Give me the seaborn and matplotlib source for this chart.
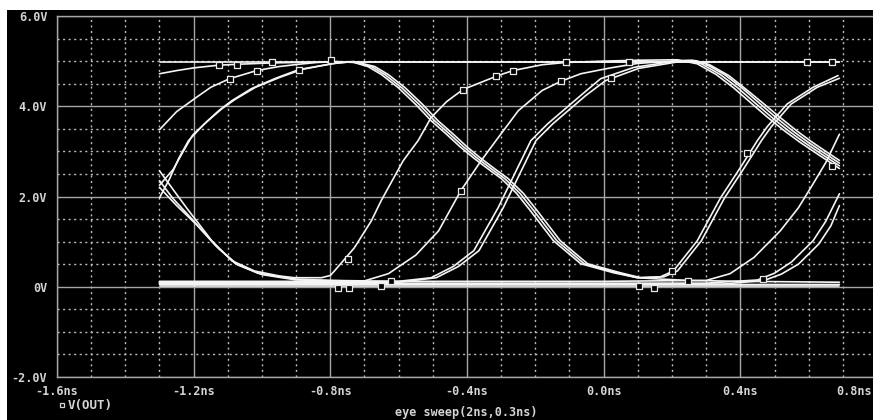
import numpy as np
import pandas as pd
import matplotlib
matplotlib.use("Agg")
import matplotlib.pyplot as plt
import seaborn as sns
from matplotlib.ticker import MultipleLocator, FixedLocator
from matplotlib.patches import Rectangle
from matplotlib.lines import Line2D
from matplotlib.transforms import ScaledTranslation

# ---------------- data (time in ns, voltage in V) ----------------
t_high = [-1.30, 0.69]
v_high = [4.97, 4.97]

t_c = [-1.30, -1.25, -1.20, -1.127, -1.074, -0.972, -0.90, -0.80, 0.69]
v_c = [4.72, 4.79, 4.85, 4.91, 4.93, 4.96, 4.97, 4.98, 4.98]

t_low1 = [-1.30, 0.69]
v_low1 = [0.02, 0.02]

t_low2 = [-1.30, -0.80, -0.30, 0.30, 0.69]
v_low2 = [0.07, 0.06, 0.06, 0.05, 0.05]

t_d = [-1.30, -1.25, -1.197, -1.15, -1.095, -1.016, -0.95, -0.893, -0.84, -0.78, -0.73,
       -0.69, -0.65, -0.601, -0.55, -0.505, -0.46, -0.42, -0.38, -0.34, -0.30, -0.255, -0.215,
       -0.147, -0.067, 0.029, 0.099, 0.166, 0.25, 0.40, 0.55, 0.69]
v_d = [3.48, 3.88, 4.17, 4.42, 4.61, 4.79, 4.88, 4.93, 4.97, 4.99, 4.97,
       4.88, 4.70, 4.41, 4.04, 3.68, 3.38, 3.10, 2.85, 2.62, 2.40, 2.07, 1.69,
       1.02, 0.51, 0.31, 0.20, 0.17, 0.14, 0.12, 0.11, 0.10]

t_e1 = [-1.30, -1.27, -1.244, -1.215, -1.17, -1.127, -1.089, -1.031, -0.96, -0.893, -0.797, -0.74,
        -0.68, -0.64, -0.591, -0.54, -0.495, -0.45, -0.41, -0.37, -0.33, -0.29, -0.245, -0.205,
        -0.137, -0.057, 0.039, 0.099, 0.166,
        0.204, 0.274, 0.342, 0.40, 0.45, 0.479, 0.537, 0.613, 0.686]
v_e1 = [1.97, 2.40, 2.84, 3.24, 3.60, 3.90, 4.12, 4.39, 4.62, 4.81, 4.94, 4.99,
        4.88, 4.70, 4.41, 4.04, 3.68, 3.38, 3.10, 2.85, 2.62, 2.40, 2.07, 1.69,
        1.02, 0.51, 0.31, 0.20, 0.22,
        0.35, 1.02, 1.97, 2.64, 3.24, 3.55, 4.05, 4.42, 4.68]

t_e2 = [-1.30, -1.26, -1.232, -1.203, -1.158, -1.115, -1.077, -1.019, -0.948, -0.881, -0.79, -0.73,
        -0.67, -0.63, -0.581, -0.53, -0.485, -0.44, -0.40, -0.36, -0.32, -0.28, -0.235, -0.195,
        -0.127, -0.047, 0.049, 0.109, 0.176,
        0.216, 0.286, 0.354, 0.412, 0.462, 0.491, 0.549, 0.625, 0.69]
v_e2 = [2.25, 2.60, 2.98, 3.36, 3.68, 3.96, 4.16, 4.42, 4.64, 4.82, 4.95, 4.99,
        4.88, 4.70, 4.41, 4.04, 3.68, 3.38, 3.10, 2.85, 2.62, 2.40, 2.07, 1.69,
        1.02, 0.51, 0.31, 0.20, 0.22,
        0.35, 1.02, 1.97, 2.64, 3.24, 3.55, 4.05, 4.42, 4.62]

t_f1 = [-1.30, -1.255, -1.215, -1.147, -1.089, -1.022, -0.95, -0.905, -0.826,
        -0.80, -0.788, -0.73, -0.68, -0.651, -0.587, -0.543, -0.505, -0.46, -0.412, -0.309,
        -0.266, -0.18, -0.111, 0.0, 0.10, 0.216,
        0.274, 0.33, 0.38, 0.43, 0.479, 0.53, 0.575, 0.62, 0.69]
v_f1 = [2.57, 2.10, 1.69, 1.02, 0.58, 0.35, 0.24, 0.20, 0.20,
        0.25, 0.35, 0.86, 1.46, 1.91, 2.79, 3.24, 3.75, 4.10, 4.37, 4.68,
        4.79, 4.92, 4.97, 5.00, 5.02, 5.03,
        4.94, 4.70, 4.41, 4.08, 3.76, 3.45, 3.20, 2.97, 2.62]

t_f2 = [-1.30, -1.26, -1.205, -1.137, -1.079, -1.012, -0.90, -0.80, -0.70,
        -0.63, -0.55, -0.483, -0.418, -0.359, -0.315, -0.25, -0.18, -0.126, -0.067, 0.02, 0.10, 0.20,
        0.25, 0.286, 0.342, 0.392, 0.442, 0.491, 0.542, 0.587, 0.632, 0.69]
v_f2 = [2.35, 1.95, 1.50, 0.92, 0.52, 0.30, 0.17, 0.14, 0.13,
        0.29, 0.70, 1.24, 2.13, 2.79, 3.24, 3.90, 4.35, 4.55, 4.72, 4.85, 4.95, 5.00,
        5.01, 4.94, 4.70, 4.41, 4.08, 3.76, 3.45, 3.20, 2.97, 2.68]

t_f3 = [-1.30, -1.25, -1.195, -1.127, -1.07, -1.0, -0.90, -0.75, -0.60,
        -0.505, -0.44, -0.38, -0.309, -0.242, -0.213, -0.164, -0.067, -0.009, 0.088, 0.216,
        0.26, 0.298, 0.354, 0.404, 0.454, 0.503, 0.554, 0.599, 0.644, 0.69]
v_f3 = [2.20, 1.80, 1.40, 0.85, 0.48, 0.27, 0.15, 0.13, 0.12,
        0.20, 0.45, 0.80, 1.75, 2.79, 3.24, 3.61, 4.24, 4.61, 4.86, 5.01,
        5.02, 4.94, 4.70, 4.41, 4.08, 3.76, 3.45, 3.20, 2.97, 2.74]

t_g = [-1.30, -0.80, -0.60,
       -0.49, -0.425, -0.365, -0.294, -0.227, -0.198, -0.149, -0.052, 0.006, 0.103, 0.23,
       0.27, 0.31, 0.366, 0.416, 0.466, 0.515, 0.566, 0.611, 0.656, 0.69]
v_g = [0.10, 0.10, 0.10,
       0.20, 0.45, 0.80, 1.75, 2.79, 3.24, 3.61, 4.24, 4.57, 4.84, 5.00,
       5.01, 4.92, 4.68, 4.38, 4.07, 3.76, 3.45, 3.20, 2.97, 2.80]

t_h = [-1.30, 0.0, 0.30, 0.37, 0.44, 0.517, 0.57, 0.613, 0.65, 0.69]
v_h = [0.12, 0.12, 0.14, 0.29, 0.65, 1.24, 1.75, 2.28, 2.75, 3.38]

t_i1 = [-1.30, 0.30, 0.45, 0.50, 0.55, 0.613, 0.65, 0.69]
v_i1 = [0.08, 0.08, 0.15, 0.30, 0.55, 1.02, 1.45, 2.06]

t_i2 = [-1.30, 0.35, 0.47, 0.52, 0.57, 0.63, 0.665, 0.69]
v_i2 = [0.05, 0.06, 0.14, 0.28, 0.50, 0.95, 1.35, 1.80]

# identification markers (PSpice square symbols) on the traces
mark_t = [-1.127, -1.074, -0.972, -1.095, -1.016, -0.891, -0.797, -0.412, -0.315, -0.266,
          -0.111, -0.126, 0.073, 0.020, 0.596, 0.669, 0.420, 0.669, 0.201, 0.248, 0.467,
          0.102, 0.146, -0.747, -0.651, -0.622, -0.777, -0.745, -0.418]
mark_v = [4.92, 4.92, 4.97, 4.61, 4.79, 4.81, 5.03, 4.37, 4.68, 4.79,
          4.97, 4.55, 4.99, 4.63, 4.97, 4.97, 2.97, 2.68, 0.35, 0.13, 0.18,
          0.02, -0.02, 0.62, 0.02, 0.13, -0.02, -0.02, 2.13]

x_ticks = [-1.6, -1.2, -0.8, -0.4, 0.0, 0.4, 0.8]
x_labels = ["-1.6ns", "-1.2ns", "-0.8ns", "-0.4ns", "0.0ns", "0.4ns", "0.8ns"]
y_ticks = [-2, 0, 2, 4, 6]
y_labels = ["-2.0V", "0V", "2.0V", "4.0V", "6.0V"]

traces = {
    "high": (t_high, v_high), "c": (t_c, v_c), "low1": (t_low1, v_low1), "low2": (t_low2, v_low2),
    "d": (t_d, v_d), "e1": (t_e1, v_e1), "e2": (t_e2, v_e2), "f1": (t_f1, v_f1),
    "f2": (t_f2, v_f2), "f3": (t_f3, v_f3), "g": (t_g, v_g), "h": (t_h, v_h),
    "i1": (t_i1, v_i1), "i2": (t_i2, v_i2),
}
rows = []
for name, (tt, vv) in traces.items():
    for k, (a, b) in enumerate(zip(tt, vv)):
        rows.append({"trace": name, "order": k, "t": a, "v": b})
df = pd.DataFrame(rows)
marks = pd.DataFrame({"t": mark_t, "v": mark_v})

# ---------------- figure ----------------
sns.set_theme(style="dark")
plt.rcParams["font.family"] = ["DejaVu Sans Mono"]

W, H = 873, 420
fig = plt.figure(figsize=(W / 100, H / 100), dpi=100, facecolor="white")
fig.patches.append(Rectangle((7 / W, 0), 1, 1 - 10 / H, transform=fig.transFigure,
                             facecolor="black", edgecolor="none", zorder=-10))

ax = fig.add_axes([57 / W, 43 / H, 820 / W, 361 / H])
ax.set_facecolor("black")

grid_major = "#a6a6a6"
grid_minor = "#bdbdbd"
ax.xaxis.set_major_locator(FixedLocator(x_ticks))
ax.xaxis.set_minor_locator(MultipleLocator(0.1))
ax.yaxis.set_major_locator(FixedLocator(y_ticks))
ax.yaxis.set_minor_locator(MultipleLocator(0.5))
ax.grid(which="major", color=grid_major, lw=1.0, ls="-", zorder=0)
ax.grid(which="minor", color=grid_minor, lw=1.0, ls=(0, (1.5, 2.5)), zorder=0)
ax.set_axisbelow(True)

sns.lineplot(data=df, x="t", y="v", units="trace", estimator=None, sort=False,
             color="#f4f4f4", lw=1.2, ax=ax, legend=False, zorder=3)
sns.scatterplot(data=marks, x="t", y="v", marker="s", s=13, facecolor="black",
                edgecolor="#e8e8e8", linewidth=0.9, ax=ax, legend=False, zorder=4)

ax.set_xlim(-1.6, 0.8)
ax.set_ylim(-2, 6)
ax.set_xticks(x_ticks)
ax.set_xticklabels(x_labels)
ax.set_yticks(y_ticks)
ax.set_yticklabels(y_labels)
ax.set_xlabel("")
ax.set_ylabel("")

lab_color = "#d4d4d4"
ax.tick_params(which="major", length=3, width=1, color=grid_major, colors=lab_color,
               labelsize=8.5, pad=4, direction="out")
ax.tick_params(which="minor", length=0)
ax.tick_params(axis="x", pad=2.5)
for lbl in ax.get_xticklabels() + ax.get_yticklabels():
    lbl.set_fontweight("bold")
    lbl.set_color(lab_color)
last = ax.get_xticklabels()[-1]
last.set_horizontalalignment("right")
last.set_transform(last.get_transform() + ScaledTranslation(-5 / 100, 0, fig.dpi_scale_trans))

for s in ax.spines.values():
    s.set_visible(True)
    s.set_color(grid_major)
    s.set_linewidth(1.0)

# legend entry and sweep label
fig.add_artist(Line2D([62 / W], [1 - 405 / H], marker="s", markersize=3.5, mfc="black",
                      mec=lab_color, mew=0.9, transform=fig.transFigure))
fig.text(68 / W, 1 - 405 / H, "V(OUT)", color=lab_color, fontsize=9, fontweight="bold",
         ha="left", va="center")
fig.text(466 / W, 1 - 406 / H, "eye sweep(2ns,0.3ns)", color=lab_color, fontsize=8.5,
         fontweight="bold", ha="center", va="top")

fig.savefig("out.png", dpi=100, facecolor="white")
